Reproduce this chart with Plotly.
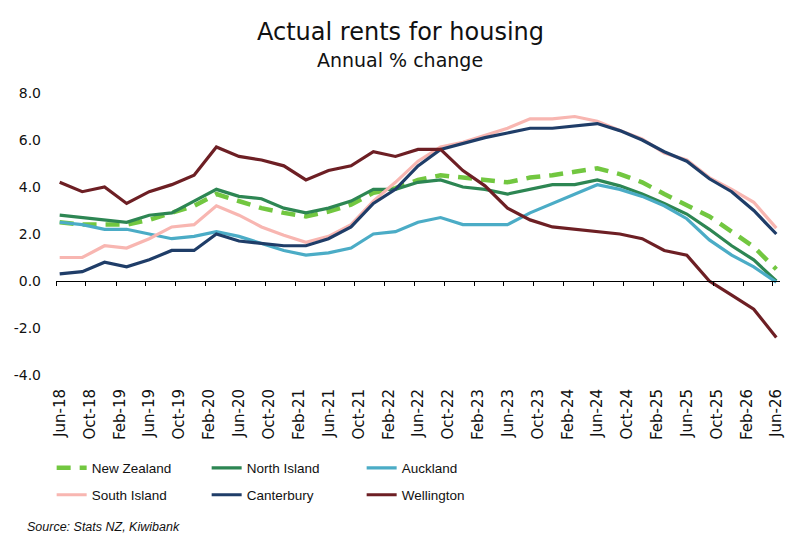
import pandas as pd
import plotly.graph_objects as go

quarters = ["Jun-18", "Sep-18", "Dec-18", "Mar-19", "Jun-19", "Sep-19", "Dec-19", "Mar-20",
            "Jun-20", "Sep-20", "Dec-20", "Mar-21", "Jun-21", "Sep-21", "Dec-21", "Mar-22",
            "Jun-22", "Sep-22", "Dec-22", "Mar-23", "Jun-23", "Sep-23", "Dec-23", "Mar-24",
            "Jun-24", "Sep-24", "Dec-24", "Mar-25", "Jun-25", "Sep-25", "Dec-25", "Mar-26",
            "Jun-26"]

new_zealand = [2.5, 2.4, 2.4, 2.4, 2.6, 2.9, 3.2, 3.7, 3.4, 3.1, 2.9, 2.75, 2.95, 3.25, 3.75, 3.95,
               4.3, 4.5, 4.4, 4.3, 4.2, 4.4, 4.5, 4.65, 4.8, 4.55, 4.2, 3.7, 3.2, 2.75, 2.1, 1.45, 0.5]
north_island = [2.8, 2.7, 2.6, 2.5, 2.8, 2.9, 3.4, 3.9, 3.6, 3.5, 3.1, 2.9, 3.1, 3.4, 3.9, 3.9,
                4.2, 4.3, 4.0, 3.9, 3.7, 3.9, 4.1, 4.1, 4.3, 4.05, 3.7, 3.3, 2.85, 2.2, 1.5, 0.9, 0.0]
auckland = [2.5, 2.4, 2.2, 2.2, 2.0, 1.8, 1.9, 2.1, 1.9, 1.6, 1.3, 1.1, 1.2, 1.4, 2.0, 2.1,
            2.5, 2.7, 2.4, 2.4, 2.4, 2.9, 3.3, 3.7, 4.1, 3.9, 3.6, 3.2, 2.65, 1.75, 1.1, 0.6, -0.05]
south_island = [1.0, 1.0, 1.5, 1.4, 1.8, 2.3, 2.4, 3.2, 2.8, 2.3, 1.95, 1.65, 1.9, 2.4, 3.4, 4.2,
                5.1, 5.7, 5.9, 6.2, 6.5, 6.9, 6.9, 7.0, 6.8, 6.4, 6.05, 5.45, 5.15, 4.4, 3.9, 3.35, 2.25]
canterbury = [0.3, 0.4, 0.8, 0.6, 0.9, 1.3, 1.3, 2.0, 1.7, 1.6, 1.5, 1.5, 1.8, 2.3, 3.3, 3.9,
              4.9, 5.6, 5.85, 6.1, 6.3, 6.5, 6.5, 6.6, 6.7, 6.4, 6.0, 5.5, 5.1, 4.35, 3.8, 3.0, 2.0]
wellington = [4.2, 3.8, 4.0, 3.3, 3.8, 4.1, 4.5, 5.7, 5.3, 5.15, 4.9, 4.3, 4.7, 4.9, 5.5, 5.3,
              5.6, 5.6, 4.7, 4.05, 3.1, 2.6, 2.3, 2.2, 2.1, 2.0, 1.8, 1.3, 1.1, 0.0, -0.6, -1.2, -2.4]

x_tick_labels = ["Jun-18", "Oct-18", "Feb-19", "Jun-19", "Oct-19", "Feb-20", "Jun-20", "Oct-20",
                 "Feb-21", "Jun-21", "Oct-21", "Feb-22", "Jun-22", "Oct-22", "Feb-23", "Jun-23",
                 "Oct-23", "Feb-24", "Jun-24", "Oct-24", "Feb-25", "Jun-25", "Oct-25", "Feb-26",
                 "Jun-26"]
y_tick_values = [-4, -2, 0, 2, 4, 6, 8]
y_tick_labels = ["-4.0", "-2.0", "0.0", "2.0", "4.0", "6.0", "8.0"]

# Points sit in the middle of their month slot (Excel date axis "between tick marks")
x_dates = pd.to_datetime(quarters, format="%b-%y") + pd.Timedelta(days=15)
tick_dates = pd.to_datetime(x_tick_labels, format="%b-%y")
x_range = [tick_dates[0], tick_dates[-1] + pd.DateOffset(months=1)]
# label axis nudged so rotated labels sit where the reference puts them
label_shift = pd.Timedelta(days=16)
x2_range = [x_range[0] - label_shift, x_range[1] - label_shift]

MAIN_FONT = "DejaVu Sans"
LEG_FONT = "Liberation Sans, Arial"
TXT = "#111111"

series = [
    ("New Zealand", new_zealand, "#72C740", 4.5, "14px,9px", "legend"),
    ("North Island", north_island, "#2D8653", 3.2, "solid", "legend"),
    ("Auckland", auckland, "#4BACC6", 3.2, "solid", "legend"),
    ("South Island", south_island, "#F8B6B1", 3.2, "solid", "legend2"),
    ("Canterbury", canterbury, "#1F3D68", 3.2, "solid", "legend2"),
    ("Wellington", wellington, "#6D1F24", 3.2, "solid", "legend2"),
]

fig = go.Figure()
for name, vals, color, width, dash, leg in series:
    fig.add_trace(go.Scatter(
        x=x_dates, y=vals, name=name, mode="lines",
        line=dict(color=color, width=width, dash=dash),
        legend=leg, xaxis="x", yaxis="y",
    ))

# helper trace so the label axis is drawn
fig.add_trace(go.Scatter(x=[tick_dates[0]], y=[None], xaxis="x2", yaxis="y",
                         showlegend=False, hoverinfo="skip", mode="lines"))

fig.update_layout(
    width=800, height=555,
    margin=dict(l=56, r=20, t=93, b=180),
    paper_bgcolor="white", plot_bgcolor="white",
    showlegend=True,
    font=dict(family=MAIN_FONT, color=TXT),
    xaxis=dict(
        type="date", range=x_range, anchor="free", position=1/3,
        showline=True, linecolor="#000000", linewidth=1,
        ticks="outside", ticklen=4, tickwidth=1, tickcolor="#000000",
        tickvals=tick_dates, showticklabels=False,
        showgrid=False, zeroline=False,
    ),
    xaxis2=dict(
        type="date", range=x2_range, overlaying="x", anchor="y", side="bottom",
        tickvals=tick_dates, ticktext=x_tick_labels, tickangle=-90,
        showline=False, ticks="", showgrid=False, zeroline=False,
        tickfont=dict(family=MAIN_FONT, size=15, color=TXT),
        ticklabelstandoff=10,
    ),
    yaxis=dict(
        range=[-4, 8], tickvals=y_tick_values, ticktext=y_tick_labels,
        showline=False, ticks="", showgrid=False, zeroline=False,
        tickfont=dict(family=MAIN_FONT, size=14, color=TXT),
        ticklabelstandoff=14,
    ),
    legend=dict(
        orientation="h", x=-0.006, y=-0.33, xanchor="left", yanchor="middle",
        entrywidth=110, entrywidthmode="pixels",
        font=dict(family=LEG_FONT, size=13.5, color=TXT),
        bgcolor="rgba(0,0,0,0)", itemwidth=30,
    ),
    legend2=dict(
        orientation="h", x=-0.006, y=-0.4255, xanchor="left", yanchor="middle",
        entrywidth=110, entrywidthmode="pixels",
        font=dict(family=LEG_FONT, size=13.5, color=TXT),
        bgcolor="rgba(0,0,0,0)", itemwidth=30,
    ),
    annotations=[
        dict(text="Actual rents for housing", x=0.4752, y=1.216, xref="paper", yref="paper",
             xanchor="center", yanchor="middle", showarrow=False,
             font=dict(family=MAIN_FONT, size=24, color=TXT)),
        dict(text="Annual % change", x=0.4752, y=1.117, xref="paper", yref="paper",
             xanchor="center", yanchor="middle", showarrow=False,
             font=dict(family=MAIN_FONT, size=19, color=TXT)),
        dict(text="<i>Source: Stats NZ, Kiwibank</i>", x=-0.043, y=-0.539, xref="paper", yref="paper",
             xanchor="left", yanchor="middle", showarrow=False,
             font=dict(family=LEG_FONT, size=12.5, color=TXT)),
    ],
)

fig.write_html("out.html")
